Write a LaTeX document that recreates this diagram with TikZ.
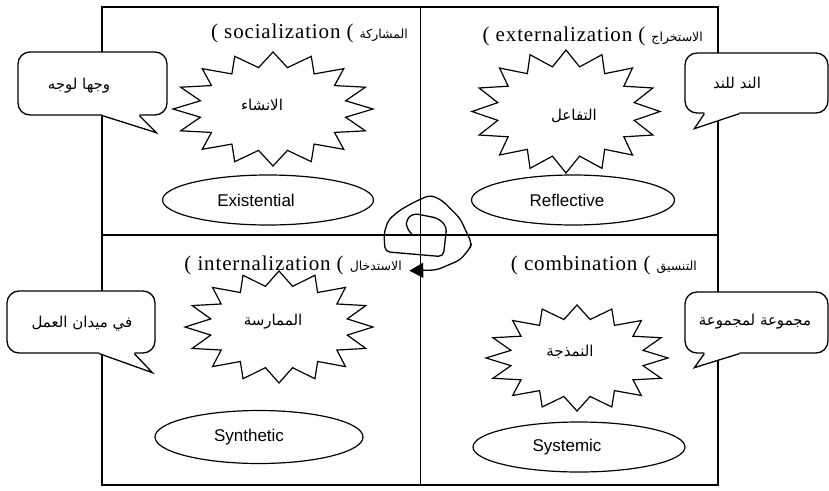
\documentclass[tikz,border=0pt]{standalone}
\usepackage{fontspec}
\setmainfont{Liberation Serif}
\newfontfamily\arabicfont[Script=Arabic]{DejaVu Sans}
\newfontfamily\arialfont{Liberation Sans}
\newfontfamily\hdrfont[LetterSpace=4]{Liberation Serif}
\TeXXeTstate=1
\usetikzlibrary{shapes.geometric,arrows.meta,calc}
\newcommand\artxt[1]{{\arabicfont\beginR #1\endR}}
\newcommand\hdrar[1]{{\arabicfont\fontsize{12.5}{14}\selectfont\beginR #1\endR}}
% 16-point starburst on an ellipse: #1 cx, #2 cy, #3 rx, #4 ry
\newcommand\drawburst[4]{%
  \draw[burst] plot[domain=0:31, samples=32, variable=\k]
    ({#1+(1-0.26*mod(round(\k),2))*#3*cos(\k*11.25)},
     {#2+(1-0.26*mod(round(\k),2))*#4*sin(\k*11.25)}) -- cycle;}
\begin{document}
\begin{tikzpicture}[x=1pt,y=-1pt,
  frame/.style={line width=1.3pt},
  burst/.style={draw, line width=1.2pt, fill=white, line join=miter},
  oval/.style={draw, ellipse, line width=1.2pt, inner sep=0pt},
  callout/.style={draw, fill=white, rectangle, rounded corners=12pt, line width=1.3pt, inner sep=0pt},
  tail/.style={line width=1.3pt, line join=miter},
  hdr/.style={inner sep=0pt, font=\hdrfont\fontsize{21}{23}\selectfont},
  arlabel/.style={inner sep=0pt, font=\arabicfont\fontsize{15}{17}\selectfont},
  ovaltext/.style={inner sep=0pt, font=\arialfont\fontsize{17}{19}\selectfont},
]
\useasboundingbox (0,0) rectangle (829,490);
\fill[white] (0,0) rectangle (829,490);

% the four-quadrant board
\node[draw, frame, minimum width=616pt, minimum height=478pt, inner sep=0pt] (board) at (410,246) {};
\coordinate (mid) at (420.5,235);
\draw[frame] (mid |- board.north) -- (mid |- board.south);
\draw[frame] (mid -| board.west) -- (mid -| board.east);

% quadrant headings
\node[hdr, anchor=base east] (hsoc) at (408,38) {( socialization ( \hdrar{المشاركة}};
\node[hdr, anchor=base east] (hext) at (703,41) {( externalization ( \hdrar{الاستخراج}};
\node[hdr, anchor=base east] (hint) at (402,270) {( internalization ( \hdrar{الاستدخال}};
\node[hdr, anchor=base east] (hcom) at (697,270) {( combination ( \hdrar{التنسيق}};

% starbursts
\drawburst{273}{109}{100}{57}
\node[arlabel] (sinsha) at (262,105) {\artxt{الانشاء}};
\drawburst{566}{111.5}{94}{61.5}
\node[arlabel] (stafa) at (574,116) {\artxt{التفاعل}};
\drawburst{279}{327}{94}{56}
\node[arlabel] (smuma) at (273,322) {\artxt{الممارسة}};
\drawburst{577}{358}{91}{53}
\node[arlabel] (snamd) at (570,352) {\artxt{النمذجة}};

% ovals
\node[oval, minimum width=211pt, minimum height=50pt] (oexi) at (268,200) {};
\node[ovaltext] (texi) at (256,200) {Existential};
\node[oval, minimum width=203pt, minimum height=50pt] (oref) at (573,200) {};
\node[ovaltext] (tref) at (567,200) {Reflective};
\node[oval, minimum width=208pt, minimum height=53pt] (osyn) at (259,437) {};
\node[ovaltext] (tsyn) at (249,437) {Synthetic};
\node[oval, minimum width=212pt, minimum height=50pt] (osys) at (579,447) {};
\node[ovaltext] (tsys) at (567,447) {Systemic};

% hand-drawn spiral in the centre
\draw[line width=1.3pt, rounded corners=5pt, line cap=round,
      -{Triangle[length=14pt,width=15pt]}]
  (411.7,234) -- (406.7,228.3) -- (406,220) -- (413.3,213.3) -- (438.3,218.3)
  -- (446.7,226.7) -- (443.3,256.7) -- (385,251.7) -- (384,233.3) -- (388.3,220)
  -- (400,210) -- (415,201.7) -- (430,195) -- (441.7,200) -- (460,218.3)
  -- (471.7,243.3) -- (470,248.3) -- (460,260) -- (436.7,270) -- (409.3,270.7);

% speech callouts
\node[callout, minimum width=149pt, minimum height=63pt] (ctl) at (92.5,83.5) {};
\fill[white] ($(ctl.south west)+(85,-2)$) -- ($(ctl.south west)+(85,0)$) -- ($(ctl.south west)+(139,17)$) -- ($(ctl.south west)+(122,0)$) -- ($(ctl.south west)+(122,-2)$) -- cycle;
\draw[tail] ($(ctl.south west)+(85,0)$) -- ($(ctl.south west)+(139,17)$) -- ($(ctl.south west)+(122,0)$);
\node[arlabel] (xtl) at (79,86) {\artxt{وجها لوجه}};

\node[callout, minimum width=148pt, minimum height=62pt] (cbl) at (81,322) {};
\fill[white] ($(cbl.south west)+(93,-2)$) -- ($(cbl.south west)+(93,0)$) -- ($(cbl.south west)+(146,19)$) -- ($(cbl.south west)+(128,0)$) -- ($(cbl.south west)+(128,-2)$) -- cycle;
\draw[tail] ($(cbl.south west)+(93,0)$) -- ($(cbl.south west)+(146,19)$) -- ($(cbl.south west)+(128,0)$);
\node[arlabel] (xbl) at (82,324) {\artxt{في ميدان العمل}};

\node[callout, minimum width=143pt, minimum height=60pt] (ctr) at (756.5,83) {};
\fill[white] ($(ctr.south west)+(20,-2)$) -- ($(ctr.south west)+(20,0)$) -- ($(ctr.south west)+(10,15)$) -- ($(ctr.south west)+(55,0)$) -- ($(ctr.south west)+(55,-2)$) -- cycle;
\draw[tail] ($(ctr.south west)+(20,0)$) -- ($(ctr.south west)+(10,15)$) -- ($(ctr.south west)+(55,0)$);
\node[arlabel] (xtr) at (737,83) {\artxt{الند للند}};

\node[callout, minimum width=143pt, minimum height=61pt] (cbr) at (756.5,322.5) {};
\fill[white] ($(cbr.south west)+(20,-2)$) -- ($(cbr.south west)+(20,0)$) -- ($(cbr.south west)+(10,14)$) -- ($(cbr.south west)+(55,0)$) -- ($(cbr.south west)+(55,-2)$) -- cycle;
\draw[tail] ($(cbr.south west)+(20,0)$) -- ($(cbr.south west)+(10,14)$) -- ($(cbr.south west)+(55,0)$);
\node[arlabel] (xbr) at (755,322) {\artxt{مجموعة لمجموعة}};
\end{tikzpicture}
\end{document}
